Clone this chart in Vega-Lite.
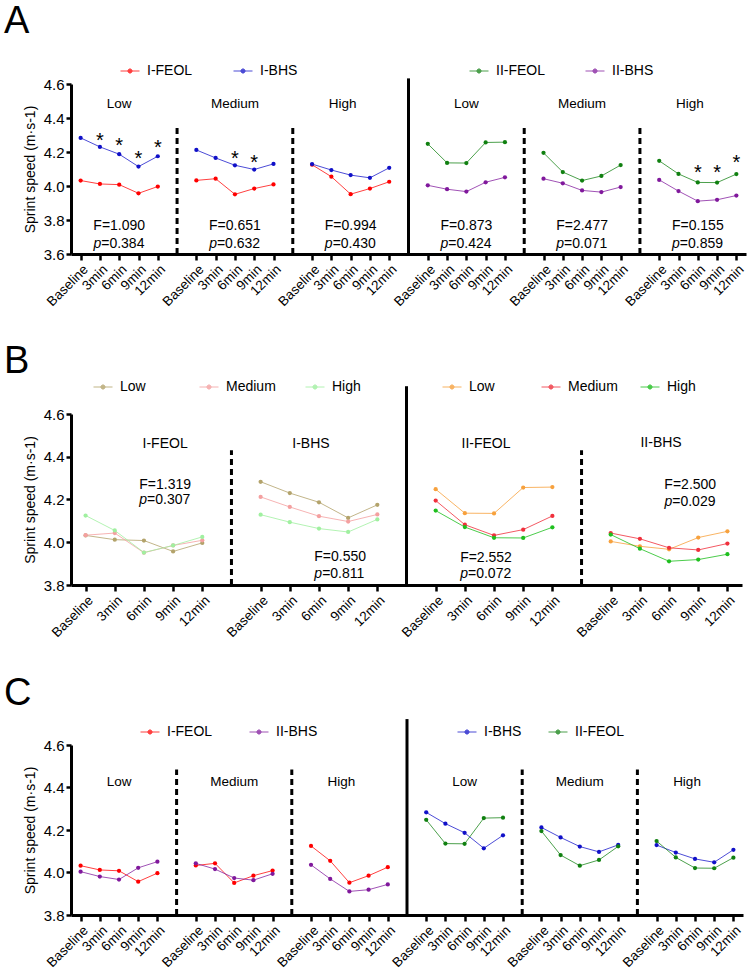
{
  "$schema": "https://vega.github.io/schema/vega-lite/v6.json",
  "background": "white",
  "padding": {"left": 4, "top": 3, "right": 2, "bottom": 2},
  "spacing": 160,
  "bounds": "flush",
  "datasets": {
    "d": [
      {"c":"I-FEOL","i":"Low","v":4.032,"ka":"L1|Baseline","kb":"F1|Baseline","kc":"L1|Baseline"},
      {"c":"I-FEOL","i":"Low","v":4.012,"ka":"L1|3min","kb":"F1|3min","kc":"L1|3min"},
      {"c":"I-FEOL","i":"Low","v":4.008,"ka":"L1|6min","kb":"F1|6min","kc":"L1|6min"},
      {"c":"I-FEOL","i":"Low","v":3.957,"ka":"L1|9min","kb":"F1|9min","kc":"L1|9min"},
      {"c":"I-FEOL","i":"Low","v":3.997,"ka":"L1|12min","kb":"F1|12min","kc":"L1|12min"},
      {"c":"I-FEOL","i":"Medium","v":4.033,"ka":"M1|Baseline","kb":"F1|Baseline","kc":"M1|Baseline"},
      {"c":"I-FEOL","i":"Medium","v":4.043,"ka":"M1|3min","kb":"F1|3min","kc":"M1|3min"},
      {"c":"I-FEOL","i":"Medium","v":3.951,"ka":"M1|6min","kb":"F1|6min","kc":"M1|6min"},
      {"c":"I-FEOL","i":"Medium","v":3.985,"ka":"M1|9min","kb":"F1|9min","kc":"M1|9min"},
      {"c":"I-FEOL","i":"Medium","v":4.009,"ka":"M1|12min","kb":"F1|12min","kc":"M1|12min"},
      {"c":"I-FEOL","i":"High","v":4.125,"ka":"H1|Baseline","kb":"F1|Baseline","kc":"H1|Baseline"},
      {"c":"I-FEOL","i":"High","v":4.055,"ka":"H1|3min","kb":"F1|3min","kc":"H1|3min"},
      {"c":"I-FEOL","i":"High","v":3.952,"ka":"H1|6min","kb":"F1|6min","kc":"H1|6min"},
      {"c":"I-FEOL","i":"High","v":3.985,"ka":"H1|9min","kb":"F1|9min","kc":"H1|9min"},
      {"c":"I-FEOL","i":"High","v":4.025,"ka":"H1|12min","kb":"F1|12min","kc":"H1|12min"},
      {"c":"I-BHS","i":"Low","v":4.283,"ka":"L1|Baseline","kb":"B1|Baseline","kc":"L2|Baseline"},
      {"c":"I-BHS","i":"Low","v":4.230,"ka":"L1|3min","kb":"B1|3min","kc":"L2|3min"},
      {"c":"I-BHS","i":"Low","v":4.187,"ka":"L1|6min","kb":"B1|6min","kc":"L2|6min"},
      {"c":"I-BHS","i":"Low","v":4.114,"ka":"L1|9min","kb":"B1|9min","kc":"L2|9min"},
      {"c":"I-BHS","i":"Low","v":4.175,"ka":"L1|12min","kb":"B1|12min","kc":"L2|12min"},
      {"c":"I-BHS","i":"Medium","v":4.212,"ka":"M1|Baseline","kb":"B1|Baseline","kc":"M2|Baseline"},
      {"c":"I-BHS","i":"Medium","v":4.165,"ka":"M1|3min","kb":"B1|3min","kc":"M2|3min"},
      {"c":"I-BHS","i":"Medium","v":4.122,"ka":"M1|6min","kb":"B1|6min","kc":"M2|6min"},
      {"c":"I-BHS","i":"Medium","v":4.097,"ka":"M1|9min","kb":"B1|9min","kc":"M2|9min"},
      {"c":"I-BHS","i":"Medium","v":4.130,"ka":"M1|12min","kb":"B1|12min","kc":"M2|12min"},
      {"c":"I-BHS","i":"High","v":4.129,"ka":"H1|Baseline","kb":"B1|Baseline","kc":"H2|Baseline"},
      {"c":"I-BHS","i":"High","v":4.094,"ka":"H1|3min","kb":"B1|3min","kc":"H2|3min"},
      {"c":"I-BHS","i":"High","v":4.064,"ka":"H1|6min","kb":"B1|6min","kc":"H2|6min"},
      {"c":"I-BHS","i":"High","v":4.048,"ka":"H1|9min","kb":"B1|9min","kc":"H2|9min"},
      {"c":"I-BHS","i":"High","v":4.107,"ka":"H1|12min","kb":"B1|12min","kc":"H2|12min"},
      {"c":"II-FEOL","i":"Low","v":4.248,"ka":"L2|Baseline","kb":"F2|Baseline","kc":"L2|Baseline"},
      {"c":"II-FEOL","i":"Low","v":4.136,"ka":"L2|3min","kb":"F2|3min","kc":"L2|3min"},
      {"c":"II-FEOL","i":"Low","v":4.135,"ka":"L2|6min","kb":"F2|6min","kc":"L2|6min"},
      {"c":"II-FEOL","i":"Low","v":4.256,"ka":"L2|9min","kb":"F2|9min","kc":"L2|9min"},
      {"c":"II-FEOL","i":"Low","v":4.258,"ka":"L2|12min","kb":"F2|12min","kc":"L2|12min"},
      {"c":"II-FEOL","i":"Medium","v":4.195,"ka":"M2|Baseline","kb":"F2|Baseline","kc":"M2|Baseline"},
      {"c":"II-FEOL","i":"Medium","v":4.082,"ka":"M2|3min","kb":"F2|3min","kc":"M2|3min"},
      {"c":"II-FEOL","i":"Medium","v":4.032,"ka":"M2|6min","kb":"F2|6min","kc":"M2|6min"},
      {"c":"II-FEOL","i":"Medium","v":4.059,"ka":"M2|9min","kb":"F2|9min","kc":"M2|9min"},
      {"c":"II-FEOL","i":"Medium","v":4.123,"ka":"M2|12min","kb":"F2|12min","kc":"M2|12min"},
      {"c":"II-FEOL","i":"High","v":4.148,"ka":"H2|Baseline","kb":"F2|Baseline","kc":"H2|Baseline"},
      {"c":"II-FEOL","i":"High","v":4.071,"ka":"H2|3min","kb":"F2|3min","kc":"H2|3min"},
      {"c":"II-FEOL","i":"High","v":4.021,"ka":"H2|6min","kb":"F2|6min","kc":"H2|6min"},
      {"c":"II-FEOL","i":"High","v":4.020,"ka":"H2|9min","kb":"F2|9min","kc":"H2|9min"},
      {"c":"II-FEOL","i":"High","v":4.070,"ka":"H2|12min","kb":"F2|12min","kc":"H2|12min"},
      {"c":"II-BHS","i":"Low","v":4.004,"ka":"L2|Baseline","kb":"B2|Baseline","kc":"L1|Baseline"},
      {"c":"II-BHS","i":"Low","v":3.981,"ka":"L2|3min","kb":"B2|3min","kc":"L1|3min"},
      {"c":"II-BHS","i":"Low","v":3.967,"ka":"L2|6min","kb":"B2|6min","kc":"L1|6min"},
      {"c":"II-BHS","i":"Low","v":4.022,"ka":"L2|9min","kb":"B2|9min","kc":"L1|9min"},
      {"c":"II-BHS","i":"Low","v":4.051,"ka":"L2|12min","kb":"B2|12min","kc":"L1|12min"},
      {"c":"II-BHS","i":"Medium","v":4.043,"ka":"M2|Baseline","kb":"B2|Baseline","kc":"M1|Baseline"},
      {"c":"II-BHS","i":"Medium","v":4.016,"ka":"M2|3min","kb":"B2|3min","kc":"M1|3min"},
      {"c":"II-BHS","i":"Medium","v":3.974,"ka":"M2|6min","kb":"B2|6min","kc":"M1|6min"},
      {"c":"II-BHS","i":"Medium","v":3.964,"ka":"M2|9min","kb":"B2|9min","kc":"M1|9min"},
      {"c":"II-BHS","i":"Medium","v":3.994,"ka":"M2|12min","kb":"B2|12min","kc":"M1|12min"},
      {"c":"II-BHS","i":"High","v":4.036,"ka":"H2|Baseline","kb":"B2|Baseline","kc":"H1|Baseline"},
      {"c":"II-BHS","i":"High","v":3.970,"ka":"H2|3min","kb":"B2|3min","kc":"H1|3min"},
      {"c":"II-BHS","i":"High","v":3.911,"ka":"H2|6min","kb":"B2|6min","kc":"H1|6min"},
      {"c":"II-BHS","i":"High","v":3.919,"ka":"H2|9min","kb":"B2|9min","kc":"H1|9min"},
      {"c":"II-BHS","i":"High","v":3.944,"ka":"H2|12min","kb":"B2|12min","kc":"H1|12min"}
    ],
    "annA": [
      {"ka":"L1|6min","v":4.484,"kind":"lab","text":"Low"},
      {"ka":"M1|6min","v":4.484,"kind":"lab","text":"Medium"},
      {"ka":"H1|6min","v":4.484,"kind":"lab","text":"High"},
      {"ka":"L2|6min","v":4.484,"kind":"lab","text":"Low"},
      {"ka":"M2|6min","v":4.484,"kind":"lab","text":"Medium"},
      {"ka":"H2|6min","v":4.484,"kind":"lab","text":"High"},
      {"ka":"L1|6min","v":3.766,"kind":"F","text":"F=1.090"},
      {"ka":"M1|6min","v":3.766,"kind":"F","text":"F=0.651"},
      {"ka":"H1|6min","v":3.766,"kind":"F","text":"F=0.994"},
      {"ka":"L2|6min","v":3.766,"kind":"F","text":"F=0.873"},
      {"ka":"M2|6min","v":3.766,"kind":"F","text":"F=2.477"},
      {"ka":"H2|6min","v":3.766,"kind":"F","text":"F=0.155"},
      {"ka":"L1|6min","v":3.660,"kind":"p","text":"=0.384"},
      {"ka":"M1|6min","v":3.660,"kind":"p","text":"=0.632"},
      {"ka":"H1|6min","v":3.660,"kind":"p","text":"=0.430"},
      {"ka":"L2|6min","v":3.660,"kind":"p","text":"=0.424"},
      {"ka":"M2|6min","v":3.660,"kind":"p","text":"=0.071"},
      {"ka":"H2|6min","v":3.660,"kind":"p","text":"=0.859"},
      {"ka":"L1|3min","v":4.264,"kind":"star","text":"*"},
      {"ka":"L1|6min","v":4.234,"kind":"star","text":"*"},
      {"ka":"L1|9min","v":4.158,"kind":"star","text":"*"},
      {"ka":"L1|12min","v":4.223,"kind":"star","text":"*"},
      {"ka":"M1|6min","v":4.158,"kind":"star","text":"*"},
      {"ka":"M1|9min","v":4.134,"kind":"star","text":"*"},
      {"ka":"H2|6min","v":4.076,"kind":"star","text":"*"},
      {"ka":"H2|9min","v":4.076,"kind":"star","text":"*"},
      {"ka":"H2|12min","v":4.134,"kind":"star","text":"*"}
    ],
    "annB": [
      {"kb":"F1|9min","v":4.46,"kind":"lab","text":"I-FEOL"},
      {"kb":"B1|6min","v":4.46,"kind":"lab","text":"I-BHS"},
      {"kb":"F2|6min","v":4.46,"kind":"lab","text":"II-FEOL"},
      {"kb":"B2|6min","v":4.465,"kind":"lab","text":"II-BHS"},
      {"kb":"F1|9min","v":4.268,"kind":"F","text":"F=1.319"},
      {"kb":"B1|9min","v":3.931,"kind":"F","text":"F=0.550"},
      {"kb":"F2|6min","v":3.926,"kind":"F","text":"F=2.552"},
      {"kb":"B2|9min","v":4.268,"kind":"F","text":"F=2.500"},
      {"kb":"F1|9min","v":4.198,"kind":"p","text":"=0.307"},
      {"kb":"B1|9min","v":3.851,"kind":"p","text":"=0.811"},
      {"kb":"F2|6min","v":3.851,"kind":"p","text":"=0.072"},
      {"kb":"B2|9min","v":4.188,"kind":"p","text":"=0.029"}
    ],
    "annC": [
      {"kc":"L1|6min","v":4.425,"text":"Low"},
      {"kc":"M1|6min","v":4.425,"text":"Medium"},
      {"kc":"H1|6min","v":4.425,"text":"High"},
      {"kc":"L2|6min","v":4.425,"text":"Low"},
      {"kc":"M2|6min","v":4.425,"text":"Medium"},
      {"kc":"H2|6min","v":4.425,"text":"High"}
    ]
  },
  "vconcat": [
    {
      "title": {"text": "A", "dx": -67, "offset": 20},
      "width": 675,
      "height": 170,
      "resolve": {"scale": {"color": "independent"}},
      "encoding": {
        "x": {"field": "ka", "type": "ordinal",
          "scale": {"type": "point", "padding": 0.5, "domain": ["L1|Baseline","L1|3min","L1|6min","L1|9min","L1|12min","s1","M1|Baseline","M1|3min","M1|6min","M1|9min","M1|12min","s2","H1|Baseline","H1|3min","H1|6min","H1|9min","H1|12min","s3","L2|Baseline","L2|3min","L2|6min","L2|9min","L2|12min","s4","M2|Baseline","M2|3min","M2|6min","M2|9min","M2|12min","s5","H2|Baseline","H2|3min","H2|6min","H2|9min","H2|12min"]},
          "axis": {"title": null, "labelExpr": "split(datum.value, '|')[1]",
            "values": ["L1|Baseline","L1|3min","L1|6min","L1|9min","L1|12min","M1|Baseline","M1|3min","M1|6min","M1|9min","M1|12min","H1|Baseline","H1|3min","H1|6min","H1|9min","H1|12min","L2|Baseline","L2|3min","L2|6min","L2|9min","L2|12min","M2|Baseline","M2|3min","M2|6min","M2|9min","M2|12min","H2|Baseline","H2|3min","H2|6min","H2|9min","H2|12min"]}},
        "y": {"field": "v", "type": "quantitative",
          "scale": {"domain": [3.6, 4.6], "nice": false, "zero": false},
          "axis": {"title": "Sprint speed (m·s-1)", "values": [3.6, 3.8, 4.0, 4.2, 4.4, 4.6], "format": ".1f", "labelOverlap": false}}
      },
      "layer": [
        {
          "data": {"name": "d"},
          "transform": [{"filter": {"field": "c", "oneOf": ["I-FEOL", "I-BHS"]}}],
          "mark": {"type": "line", "strokeWidth": 1, "opacity": 0.75, "point": {"filled": true, "size": 18, "opacity": 1}},
          "encoding": {
            "color": {"field": "c", "type": "nominal", "scale": {"domain": ["I-FEOL", "I-BHS"], "range": ["#ff0000", "#1010c8"]},
              "legend": {"title": null, "orient": "none", "direction": "horizontal", "legendX": 49, "legendY": -23, "columnPadding": 38}},
            "detail": {"field": "i"},
            "order": {"value": null}
          }
        },
        {
          "data": {"name": "d"},
          "transform": [{"filter": {"field": "c", "oneOf": ["II-FEOL", "II-BHS"]}}],
          "mark": {"type": "line", "strokeWidth": 1, "opacity": 0.75, "point": {"filled": true, "size": 18, "opacity": 1}},
          "encoding": {
            "color": {"field": "c", "type": "nominal", "scale": {"domain": ["II-FEOL", "II-BHS"], "range": ["#108010", "#80189c"]},
              "legend": {"title": null, "orient": "none", "direction": "horizontal", "legendX": 398, "legendY": -23, "columnPadding": 37}},
            "detail": {"field": "i"},
            "order": {"value": null}
          }
        },
        {
          "data": {"values": [{"ka": "s1", "v": 3.6, "v2": 4.365}, {"ka": "s2", "v": 3.6, "v2": 4.365}, {"ka": "s4", "v": 3.6, "v2": 4.365}, {"ka": "s5", "v": 3.6, "v2": 4.365}]},
          "mark": {"type": "rule", "strokeWidth": 3, "strokeDash": [6, 4], "color": "black"},
          "encoding": {"y2": {"field": "v2"}}
        },
        {
          "data": {"values": [{"ka": "s3", "v": 3.6, "v2": 4.633}]},
          "mark": {"type": "rule", "strokeWidth": 3, "color": "black"},
          "encoding": {"y2": {"field": "v2"}}
        },
        {
          "data": {"name": "annA"},
          "transform": [{"filter": "datum.kind == 'lab' && datum.text != 'High'"}],
          "mark": {"type": "text", "fontSize": 13.5, "baseline": "middle", "color": "black"},
          "encoding": {"text": {"field": "text"}}
        },
        {
          "data": {"name": "annA"},
          "transform": [{"filter": "datum.kind == 'lab' && datum.text == 'High'"}],
          "mark": {"type": "text", "fontSize": 13.5, "baseline": "middle", "color": "black", "dx": -8},
          "encoding": {"text": {"field": "text"}}
        },
        {
          "data": {"name": "annA"},
          "transform": [{"filter": "datum.kind == 'F'"}],
          "mark": {"type": "text", "fontSize": 14, "baseline": "middle", "color": "black"},
          "encoding": {"text": {"field": "text"}}
        },
        {
          "data": {"name": "annA"},
          "transform": [{"filter": "datum.kind == 'p'"}],
          "mark": {"type": "text", "fontSize": 14, "baseline": "middle", "color": "black", "fontStyle": "italic", "align": "right", "dx": -18, "text": "p"}
        },
        {
          "data": {"name": "annA"},
          "transform": [{"filter": "datum.kind == 'p'"}],
          "mark": {"type": "text", "fontSize": 14, "baseline": "middle", "color": "black", "align": "left", "dx": -18},
          "encoding": {"text": {"field": "text"}}
        },
        {
          "data": {"name": "annA"},
          "transform": [{"filter": "datum.kind == 'star'"}],
          "mark": {"type": "text", "fontSize": 20, "baseline": "middle", "color": "black"},
          "encoding": {"text": {"field": "text"}}
        }
      ]
    },
    {
      "title": {"text": "B", "dx": -67, "offset": -4},
      "width": 671,
      "height": 171,
      "resolve": {"scale": {"color": "independent"}},
      "encoding": {
        "x": {"field": "kb", "type": "ordinal",
          "scale": {"type": "point", "padding": 0.5, "domain": ["F1|Baseline","F1|3min","F1|6min","F1|9min","F1|12min","s1","B1|Baseline","B1|3min","B1|6min","B1|9min","B1|12min","s2","F2|Baseline","F2|3min","F2|6min","F2|9min","F2|12min","s3","B2|Baseline","B2|3min","B2|6min","B2|9min","B2|12min"]},
          "axis": {"title": null, "labelExpr": "split(datum.value, '|')[1]",
            "values": ["F1|Baseline","F1|3min","F1|6min","F1|9min","F1|12min","B1|Baseline","B1|3min","B1|6min","B1|9min","B1|12min","F2|Baseline","F2|3min","F2|6min","F2|9min","F2|12min","B2|Baseline","B2|3min","B2|6min","B2|9min","B2|12min"]}},
        "y": {"field": "v", "type": "quantitative",
          "scale": {"domain": [3.8, 4.6], "nice": false, "zero": false},
          "axis": {"title": "Sprint speed (m·s-1)", "values": [3.8, 4.0, 4.2, 4.4, 4.6], "format": ".1f", "labelOverlap": false}}
      },
      "layer": [
        {
          "data": {"name": "d"},
          "transform": [{"filter": {"field": "c", "oneOf": ["I-FEOL", "I-BHS"]}}],
          "mark": {"type": "line", "strokeWidth": 1, "opacity": 0.8, "point": {"filled": true, "size": 18, "opacity": 1}},
          "encoding": {
            "color": {"field": "i", "type": "nominal", "scale": {"domain": ["Low", "Medium", "High"], "range": ["#b3a36b", "#f4a0a0", "#a0f0a0"]},
              "legend": {"title": null, "orient": "none", "direction": "horizontal", "legendX": 22, "legendY": -37, "columnPadding": 27}},
            "detail": {"field": "c"},
            "order": {"value": null}
          }
        },
        {
          "data": {"name": "d"},
          "transform": [{"filter": {"field": "c", "oneOf": ["II-FEOL", "II-BHS"]}}],
          "mark": {"type": "line", "strokeWidth": 1, "opacity": 0.8, "point": {"filled": true, "size": 18, "opacity": 1}},
          "encoding": {
            "color": {"field": "i", "type": "nominal", "scale": {"domain": ["Low", "Medium", "High"], "range": ["#f7a13d", "#f0303c", "#1fbf1f"]},
              "legend": {"title": null, "orient": "none", "direction": "horizontal", "legendX": 371, "legendY": -37, "columnPadding": 20}},
            "detail": {"field": "c"},
            "order": {"value": null}
          }
        },
        {
          "data": {"values": [{"kb": "s1", "v": 3.8, "v2": 4.43}, {"kb": "s3", "v": 3.8, "v2": 4.43}]},
          "mark": {"type": "rule", "strokeWidth": 3, "strokeDash": [6, 4], "color": "black"},
          "encoding": {"y2": {"field": "v2"}}
        },
        {
          "data": {"values": [{"kb": "s2", "v": 3.8, "v2": 4.73}]},
          "mark": {"type": "rule", "strokeWidth": 3, "color": "black"},
          "encoding": {"y2": {"field": "v2"}}
        },
        {
          "data": {"name": "annB"},
          "transform": [{"filter": "datum.kind != 'p'"}],
          "mark": {"type": "text", "fontSize": 14, "baseline": "middle", "color": "black", "dx": -8},
          "encoding": {"text": {"field": "text"}}
        },
        {
          "data": {"name": "annB"},
          "transform": [{"filter": "datum.kind == 'p'"}],
          "mark": {"type": "text", "fontSize": 14, "baseline": "middle", "color": "black", "fontStyle": "italic", "align": "right", "dx": -26, "text": "p"}
        },
        {
          "data": {"name": "annB"},
          "transform": [{"filter": "datum.kind == 'p'"}],
          "mark": {"type": "text", "fontSize": 14, "baseline": "middle", "color": "black", "align": "left", "dx": -26},
          "encoding": {"text": {"field": "text"}}
        }
      ]
    },
    {
      "title": {"text": "C", "dx": -67, "offset": 5},
      "width": 672,
      "height": 170,
      "resolve": {"scale": {"color": "independent"}},
      "encoding": {
        "x": {"field": "kc", "type": "ordinal",
          "scale": {"type": "point", "padding": 0.5, "domain": ["L1|Baseline","L1|3min","L1|6min","L1|9min","L1|12min","s1","M1|Baseline","M1|3min","M1|6min","M1|9min","M1|12min","s2","H1|Baseline","H1|3min","H1|6min","H1|9min","H1|12min","s3","L2|Baseline","L2|3min","L2|6min","L2|9min","L2|12min","s4","M2|Baseline","M2|3min","M2|6min","M2|9min","M2|12min","s5","H2|Baseline","H2|3min","H2|6min","H2|9min","H2|12min"]},
          "axis": {"title": null, "labelExpr": "split(datum.value, '|')[1]",
            "values": ["L1|Baseline","L1|3min","L1|6min","L1|9min","L1|12min","M1|Baseline","M1|3min","M1|6min","M1|9min","M1|12min","H1|Baseline","H1|3min","H1|6min","H1|9min","H1|12min","L2|Baseline","L2|3min","L2|6min","L2|9min","L2|12min","M2|Baseline","M2|3min","M2|6min","M2|9min","M2|12min","H2|Baseline","H2|3min","H2|6min","H2|9min","H2|12min"]}},
        "y": {"field": "v", "type": "quantitative",
          "scale": {"domain": [3.8, 4.6], "nice": false, "zero": false},
          "axis": {"title": "Sprint speed (m·s-1)", "values": [3.8, 4.0, 4.2, 4.4, 4.6], "format": ".1f", "labelOverlap": false}}
      },
      "layer": [
        {
          "data": {"name": "d"},
          "transform": [{"filter": {"field": "c", "oneOf": ["I-FEOL", "II-BHS"]}}],
          "mark": {"type": "line", "strokeWidth": 1, "opacity": 0.75, "point": {"filled": true, "size": 18, "opacity": 1}},
          "encoding": {
            "color": {"field": "c", "type": "nominal", "scale": {"domain": ["I-FEOL", "II-BHS"], "range": ["#ff0000", "#80189c"]},
              "legend": {"title": null, "orient": "none", "direction": "horizontal", "legendX": 69, "legendY": -23, "columnPadding": 34}},
            "detail": {"field": "i"},
            "order": {"value": null}
          }
        },
        {
          "data": {"name": "d"},
          "transform": [{"filter": {"field": "c", "oneOf": ["I-BHS", "II-FEOL"]}}],
          "mark": {"type": "line", "strokeWidth": 1, "opacity": 0.75, "point": {"filled": true, "size": 18, "opacity": 1}},
          "encoding": {
            "color": {"field": "c", "type": "nominal", "scale": {"domain": ["I-BHS", "II-FEOL"], "range": ["#1010c8", "#108010"]},
              "legend": {"title": null, "orient": "none", "direction": "horizontal", "legendX": 386, "legendY": -23, "columnPadding": 12}},
            "detail": {"field": "i"},
            "order": {"value": null}
          }
        },
        {
          "data": {"values": [{"kc": "s1", "v": 3.8, "v2": 4.485}, {"kc": "s2", "v": 3.8, "v2": 4.485}, {"kc": "s4", "v": 3.8, "v2": 4.485}, {"kc": "s5", "v": 3.8, "v2": 4.485}]},
          "mark": {"type": "rule", "strokeWidth": 3, "strokeDash": [6, 4], "color": "black"},
          "encoding": {"y2": {"field": "v2"}}
        },
        {
          "data": {"values": [{"kc": "s3", "v": 3.8, "v2": 4.722}]},
          "mark": {"type": "rule", "strokeWidth": 3, "color": "black"},
          "encoding": {"y2": {"field": "v2"}}
        },
        {
          "data": {"name": "annC"},
          "transform": [{"filter": "datum.text != 'High'"}],
          "mark": {"type": "text", "fontSize": 13.5, "baseline": "middle", "color": "black"},
          "encoding": {"text": {"field": "text"}}
        },
        {
          "data": {"name": "annC"},
          "transform": [{"filter": "datum.text == 'High'"}],
          "mark": {"type": "text", "fontSize": 13.5, "baseline": "middle", "color": "black", "dx": -8},
          "encoding": {"text": {"field": "text"}}
        }
      ]
    }
  ],
  "config": {
    "font": "Liberation Sans",
    "view": {"stroke": null},
    "title": {"fontSize": 38, "fontWeight": "normal", "anchor": "start", "frame": "group", "baseline": "bottom", "color": "black", "font": "Liberation Sans"},
    "axis": {"grid": false, "domainColor": "black", "domainWidth": 3, "tickColor": "black", "tickWidth": 2.5, "tickSize": 6, "labelColor": "black", "titleColor": "black", "labelFont": "Liberation Sans", "titleFont": "Liberation Sans", "titleFontWeight": "normal", "labelOverlap": false},
    "axisX": {"labelAngle": -45, "labelFontSize": 13.5, "labelPadding": 2},
    "axisY": {"labelFontSize": 15, "labelPadding": 2, "titleFontSize": 14, "titlePadding": 6, "tickSize": 5},
    "legend": {"symbolType": "M-1,0H1M0.22,0A0.22,0.22 0 1 1 -0.22,0A0.22,0.22 0 1 1 0.22,0M0.1,0A0.1,0.1 0 1 1 -0.1,0A0.1,0.1 0 1 1 0.1,0", "symbolSize": 361, "symbolStrokeWidth": 1, "labelFontSize": 14, "labelColor": "black", "labelFont": "Liberation Sans", "labelOffset": 7, "padding": 0, "gridAlign": "all"}
  }
}
